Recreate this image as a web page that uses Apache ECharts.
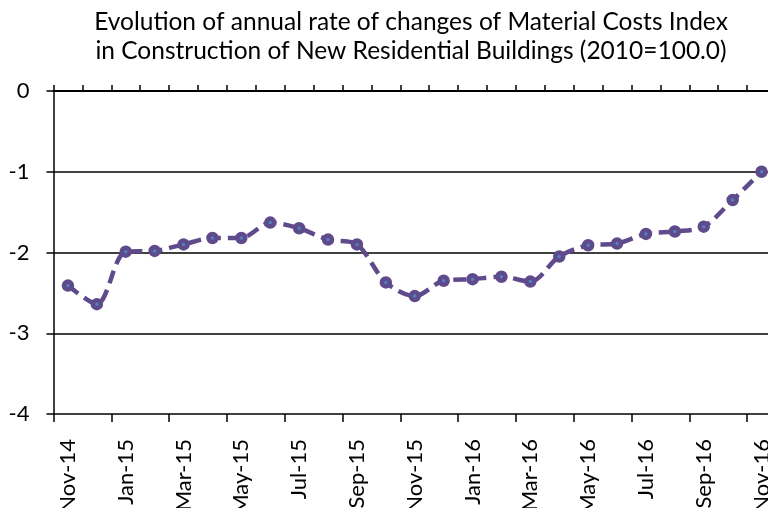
<!DOCTYPE html>
<html>
<head>
<meta charset="utf-8">
<script src="https://cdn.jsdelivr.net/npm/echarts@6/dist/echarts.min.js"></script>
<style>html,body{margin:0;padding:0;background:#fff}#c{width:768px;height:508px}</style>
</head>
<body>
<div id="c"></div>
<script>
var categories = ["Nov-14","Dec-14","Jan-15","Feb-15","Mar-15","Apr-15","May-15","Jun-15","Jul-15","Aug-15","Sep-15","Oct-15","Nov-15","Dec-15","Jan-16","Feb-16","Mar-16","Apr-16","May-16","Jun-16","Jul-16","Aug-16","Sep-16","Oct-16","Nov-16"];
var rateValues = [-2.41,-2.64,-1.99,-1.98,-1.90,-1.82,-1.82,-1.63,-1.70,-1.84,-1.90,-2.37,-2.54,-2.35,-2.33,-2.30,-2.36,-2.05,-1.91,-1.89,-1.77,-1.74,-1.68,-1.35,-1.00];
var yTicks = {min: -4, max: 0, interval: 1};
var titleLines = ["Evolution of annual rate of changes of Material Costs Index", "in Construction of New Residential Buildings (2010=100.0)"];

var FONT = "Lato";
var chart = echarts.init(document.getElementById('c'), null, {renderer: 'canvas'});
chart.setOption({
  animation: false,
  backgroundColor: '#fff',
  graphic: [
    {type: 'text', x: 411, y: 22.5, style: {text: titleLines[0], align: 'center', verticalAlign: 'middle', font: '24.5px Lato', fill: '#000'}},
    {type: 'text', x: 411, y: 51, style: {text: titleLines[1], align: 'center', verticalAlign: 'middle', font: '24.5px Lato', fill: '#000'}}
  ],
  grid: {left: 53.5, top: 91, right: -8, bottom: 94, containLabel: false, outerBoundsMode: 'none'},
  xAxis: [{
    type: 'category',
    data: categories,
    boundaryGap: true,
    axisLine: {show: true, lineStyle: {color: '#000', width: 2}},
    axisTick: {show: true, inside: true, length: 6, interval: 0, lineStyle: {color: '#000', width: 1.5}},
    axisLabel: {interval: 1, rotate: 90, margin: 25, fontFamily: FONT, fontSize: 22, color: '#000'},
    splitLine: {show: false}
  }, {
    type: 'category',
    data: categories,
    position: 'bottom',
    boundaryGap: true,
    axisLine: {show: false},
    axisTick: {show: true, inside: false, length: 8, interval: 1, lineStyle: {color: '#000', width: 1.5}},
    axisLabel: {show: false},
    splitLine: {show: false}
  }],
  yAxis: {
    type: 'value',
    min: yTicks.min,
    max: yTicks.max,
    interval: yTicks.interval,
    axisLine: {show: true, lineStyle: {color: '#000', width: 1.5}},
    axisTick: {show: true, inside: false, length: 7, lineStyle: {color: '#000', width: 1.5}},
    axisLabel: {margin: 24, fontFamily: FONT, fontSize: 22, color: '#000'},
    splitLine: {show: true, lineStyle: {color: '#000', width: 1.5}}
  },
  series: [{
    type: 'line',
    data: rateValues,
    xAxisIndex: 0,
    smooth: 0.3,
    symbol: 'circle',
    symbolSize: 8,
    lineStyle: {color: '#5F4B8B', width: 4.5, type: [13, 7]},
    itemStyle: {color: '#4F81BD', borderColor: '#5F4B8B', borderWidth: 4.5}
  }]
});
</script>
</body>
</html>
